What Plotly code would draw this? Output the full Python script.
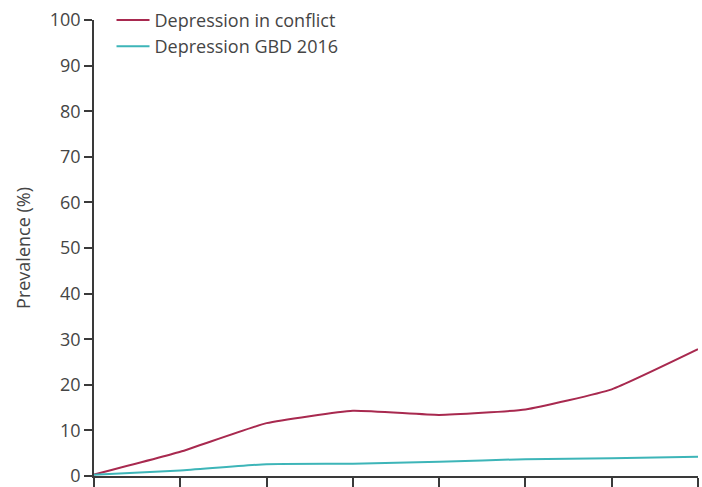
import plotly.graph_objects as go

# Time points along the x axis (unlabelled ticks)
x_points = [0, 1, 2, 3, 4, 5, 6, 7]

# Prevalence (%) for each series
depression_conflict = [0.3, 5.3, 11.6, 14.3, 13.4, 14.6, 19.0, 27.8]
depression_gbd2016 = [0.3, 1.2, 2.6, 2.7, 3.1, 3.7, 3.9, 4.2]

y_ticks = [0, 10, 20, 30, 40, 50, 60, 70, 80, 90, 100]

CRIMSON = "#a8294f"
TEAL = "#3db5b8"
AXIS = "#3a3a3a"
TEXT = "#454545"
FONT = "Open Sans"

fig = go.Figure()
fig.add_trace(go.Scatter(
    x=x_points, y=depression_conflict, mode="lines",
    name="Depression in conflict",
    line=dict(color=CRIMSON, width=2, shape="spline", smoothing=0.4),
))
fig.add_trace(go.Scatter(
    x=x_points, y=depression_gbd2016, mode="lines",
    name="Depression GBD 2016",
    line=dict(color=TEAL, width=2, shape="spline", smoothing=0.4),
))

fig.update_layout(
    width=702, height=487,
    margin=dict(l=94, r=4, t=20, b=11, autoexpand=False),
    paper_bgcolor="white", plot_bgcolor="white",
    font=dict(family=FONT, size=18, color=TEXT),
    showlegend=True,
    legend=dict(
        x=0.029, y=1.04, xanchor="left", yanchor="top",
        bgcolor="rgba(0,0,0,0)", font=dict(size=18, color=TEXT),
        itemwidth=33, tracegroupgap=0,
    ),
    xaxis=dict(
        range=[0, 7], tickvals=x_points, showticklabels=False,
        showgrid=False, zeroline=False, automargin=False,
        showline=True, linecolor=AXIS, linewidth=1.5,
        ticks="outside", ticklen=11, tickwidth=1.5, tickcolor=AXIS,
    ),
    yaxis=dict(
        range=[0, 100], tickvals=y_ticks,
        showgrid=False, zeroline=False, automargin=False,
        showline=True, linecolor=AXIS, linewidth=1.5,
        ticks="outside", ticklen=8, tickwidth=1.5, tickcolor=AXIS,
        tickfont=dict(size=18, color=TEXT), ticklabeloverflow="allow",
        title=dict(text="Prevalence (%)", font=dict(size=18, color=TEXT), standoff=14),
    ),
)

fig.write_html("out.html")
